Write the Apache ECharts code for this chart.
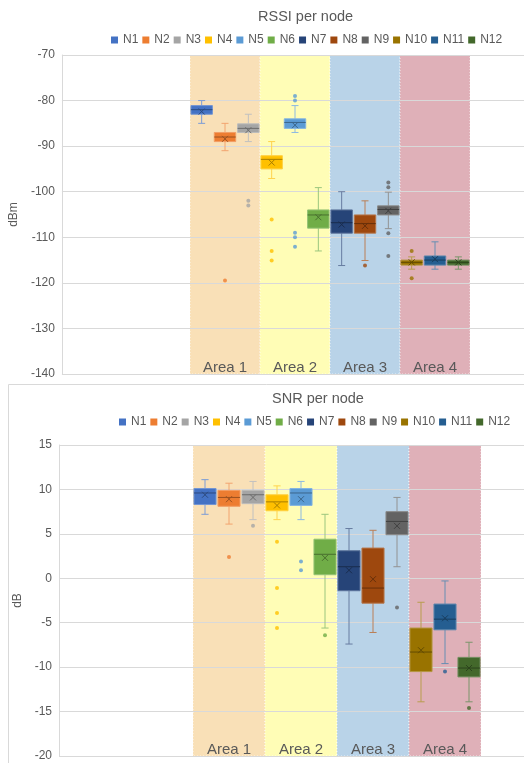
<!DOCTYPE html>
<html>
<head>
<meta charset="utf-8">
<title>RSSI and SNR per node</title>
<script src="https://cdn.jsdelivr.net/npm/echarts@6/dist/echarts.min.js"></script>
<style>
  html, body { margin: 0; padding: 0; background: #ffffff; }
  #chart { width: 524px; height: 763px; }
</style>
</head>
<body>
<div id="chart"></div>
<script>
// ---- Data -------------------------------------------------------------
const nodes = ['N1', 'N2', 'N3', 'N4', 'N5', 'N6', 'N7', 'N8', 'N9', 'N10', 'N11', 'N12'];
const areas = ['Area 1', 'Area 2', 'Area 3', 'Area 4'];
const nodesPerArea = 3;

// RSSI per node (dBm)
const rssiMin    = [-85.0, -91.0, -89.0, -97.1, -87.0, -113.0, -116.2, -115.1, -108.1, -117.0, -117.0, -117.0];
const rssiQ1     = [-83.0, -89.0, -87.0, -95.0, -86.1, -108.0, -109.1, -109.1, -105.1, -116.1, -116.1, -116.1];
const rssiMedian = [-82.0, -88.0, -86.1, -92.9, -84.8, -105.1, -106.8, -107.0, -103.9, -115.5, -115.0, -115.5];
const rssiQ3     = [-81.1, -87.0, -85.1, -92.1, -84.0, -104.0, -104.0, -105.1, -103.1, -115.0, -114.1, -115.0];
const rssiMax    = [-80.0, -85.0, -83.0, -89.0, -81.1, -99.1, -100.0, -102.0, -100.1, -114.3, -111.0, -114.3];
const rssiMean   = [-82.4, -88.4, -86.5, -93.6, -85.4, -105.6, -107.2, -107.5, -104.2, -115.5, -114.8, -115.5];
const rssiOutliers = [
  [], [-119.5], [-102.0, -103.0], [-106.1, -113.0, -115.1], [-79.0, -80.0, -109.0, -110.0, -112.1], [],
  [], [-116.2], [-98.0, -99.0, -109.1, -114.1], [-113.0, -119.0], [], []
];
const rssiTicks = { min: -140, max: -70, interval: 10 };

// SNR per node (dB)
const snrMin    = [7.2, 6.1, 6.6, 6.6, 6.6, -5.6, -7.4, -6.1, 1.3, -13.9, -9.6, -13.9];
const snrQ1     = [8.3, 8.1, 8.4, 7.6, 8.2, 0.4, -1.4, -2.8, 4.9, -10.5, -5.8, -11.1];
const snrMedian = [9.6, 9.1, 9.4, 8.6, 9.6, 2.7, 1.3, -1.1, 6.4, -8.3, -4.6, -10.1];
const snrQ3     = [10.1, 9.9, 9.9, 9.4, 10.1, 4.4, 3.1, 3.4, 7.5, -5.6, -2.9, -8.9];
const snrMax    = [11.1, 10.7, 10.9, 10.4, 10.9, 7.2, 5.6, 5.4, 9.1, -2.7, -0.3, -7.2];
const snrMean   = [9.4, 8.9, 9.1, 8.2, 8.9, 2.3, 0.9, -0.1, 5.9, -8.1, -4.5, -10.1];
const snrOutliers = [
  [], [2.4], [5.9], [4.1, -1.1, -3.9, -5.6], [1.9, 0.9], [-6.4],
  [], [], [-3.3], [], [-10.5], [-14.6]
];
const snrTicks = { min: -20, max: 15, interval: 5 };

// ---- Styling ----------------------------------------------------------
const palette = ['#4472C4', '#ED7D31', '#A5A5A5', '#FFC000', '#5B9BD5', '#70AD47',
                 '#264478', '#9E480E', '#636363', '#997300', '#255E91', '#43682B'];
const areaColors = ['#F9E0B7', '#FFFDB6', '#B9D3E8', '#DFB0B8'];
const FONT = '"Liberation Sans", Arial, sans-serif';
const TEXT = '#595959';
const GRID_LINE = '#D9D9D9';

function shade(hex, t) {
  const n = parseInt(hex.slice(1), 16);
  const c = [n >> 16, (n >> 8) & 255, n & 255];
  const target = t < 0 ? 0 : 255, a = Math.abs(t);
  const m = c.map(v => Math.round(v + (target - v) * a));
  return 'rgb(' + m.join(',') + ')';
}

// Box, whiskers, median and mean cross for one node
function boxRenderer(nodeIdx) {
  const col = palette[nodeIdx];
  const dark = shade(col, -0.35);
  const edge = shade(col, 0.25);
  const whisker = shade(col, 0.3);
  return function (params, api) {
    const x = api.value(0);
    const slot = api.size([1, 0])[0];
    const half = slot * 0.46;
    const capHalf = slot * 0.15;
    const xs = 3;
    const cx = api.coord([x, api.value(1)])[0];
    const yMin = api.coord([x, api.value(1)])[1];
    const yQ1 = api.coord([x, api.value(2)])[1];
    const yMed = api.coord([x, api.value(3)])[1];
    const yQ3 = api.coord([x, api.value(4)])[1];
    const yMax = api.coord([x, api.value(5)])[1];
    const yMean = api.coord([x, api.value(6)])[1];
    const seg = (x1, y1, x2, y2, stroke) => ({
      type: 'line', shape: { x1, y1, x2, y2 }, style: { stroke, lineWidth: 1 }
    });
    return {
      type: 'group',
      children: [
        seg(cx, yMax, cx, yQ3, whisker),
        seg(cx, yQ1, cx, yMin, whisker),
        seg(cx - capHalf, yMax, cx + capHalf, yMax, whisker),
        seg(cx - capHalf, yMin, cx + capHalf, yMin, whisker),
        {
          type: 'rect',
          shape: { x: cx - half, y: yQ3, width: half * 2, height: yQ1 - yQ3 },
          style: { fill: col, stroke: edge, lineWidth: 1 }
        },
        seg(cx - half, yMed, cx + half, yMed, dark),
        seg(cx - xs, yMean - xs, cx + xs, yMean + xs, dark),
        seg(cx - xs, yMean + xs, cx + xs, yMean - xs, dark)
      ]
    };
  };
}

// Shaded area bands with their labels
function bandRenderer(params, api) {
  const k = api.value(2);
  const cs = params.coordSys;
  const x1 = api.coord([api.value(0), 0])[0];
  const x2 = api.coord([api.value(1), 0])[0];
  const bottom = cs.y + cs.height;
  return {
    type: 'group',
    children: [
      {
        type: 'rect',
        shape: { x: x1, y: cs.y, width: x2 - x1, height: cs.height },
        style: { fill: areaColors[k], stroke: 'rgba(255,255,255,0.75)', lineWidth: 1, lineDash: [1, 2] }
      },
      {
        type: 'text',
        style: {
          text: areas[k], x: (x1 + x2) / 2, y: bottom + 1,
          align: 'center', verticalAlign: 'bottom',
          fill: TEXT, font: '15px ' + FONT
        }
      }
    ]
  };
}

const option = {
  animation: false,
  title: [],
  legend: [],
  grid: [],
  xAxis: [],
  yAxis: [],
  series: [],
  graphic: [
    // outline of the lower chart
    {
      type: 'rect', silent: true, z: 0,
      shape: { x: 8.5, y: 384.5, width: 540, height: 420 },
      style: { fill: 'none', stroke: GRID_LINE, lineWidth: 1 }
    }
  ]
};

function addPanel(cfg) {
  const g0 = option.grid.length;
  option.grid.push(
    { left: cfg.plotLeft, top: cfg.plotTop, right: 0, height: cfg.plotHeight },
    { left: cfg.nodeLeft, width: cfg.nodeWidth, top: cfg.plotTop, height: cfg.plotHeight }
  );
  const ax0 = option.xAxis.length;
  option.xAxis.push(
    { gridIndex: g0, type: 'value', show: false, min: 0, max: 1 },
    { gridIndex: g0 + 1, type: 'value', show: false, min: 0, max: nodes.length }
  );
  const ay0 = option.yAxis.length;
  option.yAxis.push(
    {
      gridIndex: g0, type: 'value', z: 1,
      min: cfg.ticks.min, max: cfg.ticks.max, interval: cfg.ticks.interval,
      name: cfg.axisName, nameLocation: 'middle', nameGap: cfg.nameGap,
      nameTextStyle: { color: TEXT, fontSize: 12, fontFamily: FONT },
      axisLine: { show: true, lineStyle: { color: GRID_LINE, width: 1 } },
      axisTick: { show: false },
      axisLabel: { color: TEXT, fontSize: 12, fontFamily: FONT, margin: 7 },
      splitLine: { show: true, lineStyle: { color: GRID_LINE, width: 1 } }
    },
    {
      gridIndex: g0 + 1, type: 'value', show: false,
      min: cfg.ticks.min, max: cfg.ticks.max, interval: cfg.ticks.interval
    }
  );
  const onNodes = { xAxisIndex: ax0 + 1, yAxisIndex: ay0 + 1 };

  option.title.push({
    text: cfg.title, left: cfg.titleLeft, top: cfg.titleTop, padding: 0,
    textStyle: { color: TEXT, fontSize: 14.5, fontWeight: 'normal', fontFamily: FONT }
  });
  option.legend.push({
    data: nodes, left: cfg.legendLeft, top: cfg.legendTop, padding: 0,
    icon: 'rect', itemWidth: 7, itemHeight: 7, itemGap: 4,
    textStyle: { color: TEXT, fontSize: 12, fontFamily: FONT }
  });

  option.series.push(Object.assign({
    type: 'custom', silent: true, z: 0,
    encode: { x: [0, 1] },
    data: areas.map((a, k) => [k * nodesPerArea, (k + 1) * nodesPerArea, k]),
    renderItem: bandRenderer
  }, onNodes));

  const s = cfg.stats;
  nodes.forEach((name, i) => {
    option.series.push(Object.assign({
      type: 'custom', name, silent: true, z: 2,
      itemStyle: { color: palette[i] },
      encode: { x: 0, y: [1, 2, 3, 4, 5, 6] },
      data: [[i + 0.5, s.min[i], s.q1[i], s.median[i], s.q3[i], s.max[i], s.mean[i]]],
      renderItem: boxRenderer(i)
    }, onNodes));
    if (s.outliers[i].length) {
      option.series.push(Object.assign({
        type: 'scatter', name, silent: true, z: 3,
        symbol: 'circle', symbolSize: 4,
        itemStyle: { color: palette[i] },
        data: s.outliers[i].map(v => [i + 0.5, v])
      }, onNodes));
    }
  });
}

addPanel({
  title: 'RSSI per node', titleLeft: 258, titleTop: 9,
  legendLeft: 111, legendTop: 34,
  axisName: 'dBm', nameGap: 38,
  ticks: rssiTicks,
  plotLeft: 57, plotTop: 55, plotHeight: 319,
  nodeLeft: 190, nodeWidth: 280,
  stats: { min: rssiMin, q1: rssiQ1, median: rssiMedian, q3: rssiQ3, max: rssiMax, mean: rssiMean, outliers: rssiOutliers }
});

addPanel({
  title: 'SNR per node', titleLeft: 272, titleTop: 391,
  legendLeft: 119, legendTop: 416,
  axisName: 'dB', nameGap: 31,
  ticks: snrTicks,
  plotLeft: 59, plotTop: 445, plotHeight: 311,
  nodeLeft: 193, nodeWidth: 288,
  stats: { min: snrMin, q1: snrQ1, median: snrMedian, q3: snrQ3, max: snrMax, mean: snrMean, outliers: snrOutliers }
});

const chart = echarts.init(document.getElementById('chart'), null, { renderer: 'canvas' });
chart.setOption(option);
</script>
</body>
</html>
